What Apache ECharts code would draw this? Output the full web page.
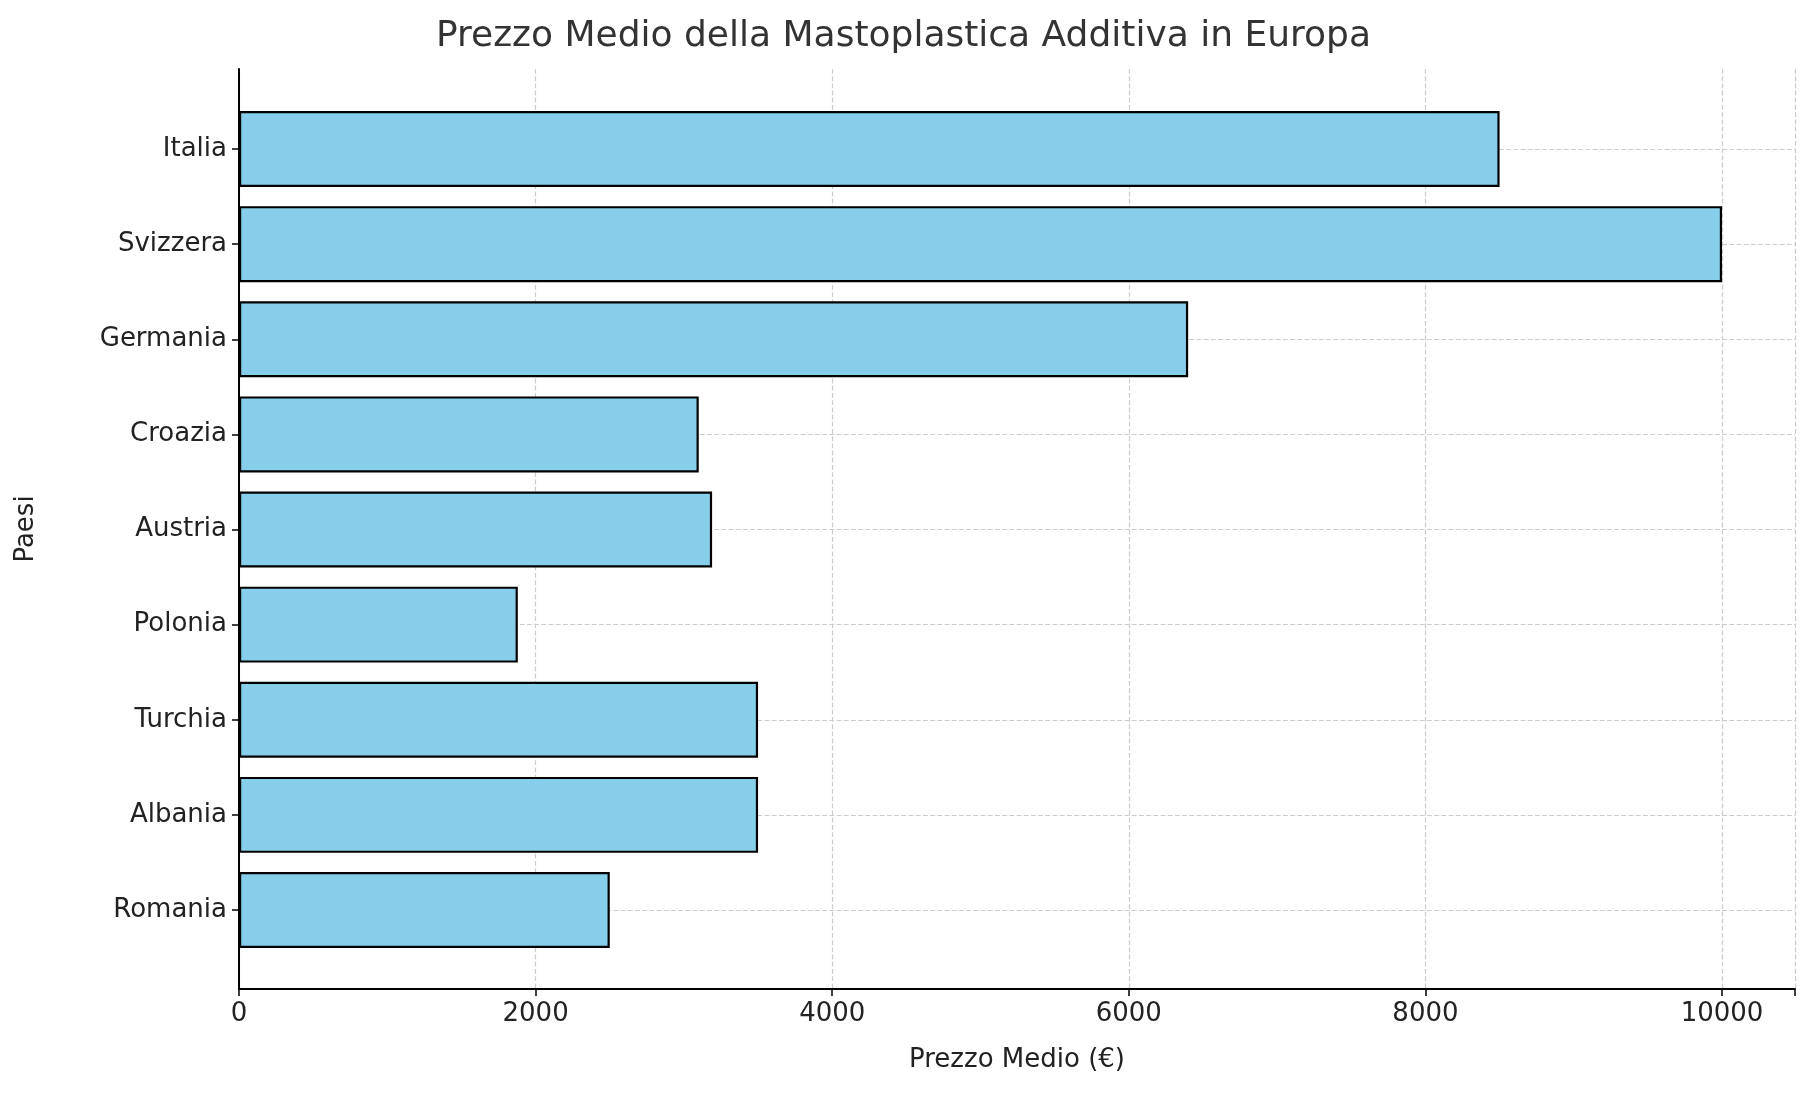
<!DOCTYPE html><html><head><meta charset="utf-8"><script src="https://cdn.jsdelivr.net/npm/echarts@6/dist/echarts.min.js"></script></head><body style="margin:0"><div id="c" style="width:1807px;height:1101px"></div><script>
const categories=['Italia','Svizzera','Germania','Croazia','Austria','Polonia','Turchia','Albania','Romania'];
const prices=[8500,10000,6400,3100,3190,1880,3500,3500,2500];
const xTicks=[0,2000,4000,6000,8000,10000];
const F='DejaVu Sans';
const c=echarts.init(document.getElementById('c'));
const L=239,R=12;
c.setOption({animation:false,
title:{text:'Prezzo Medio della Mastoplastica Additiva in Europa',left:'center',top:14,textStyle:{fontFamily:F,fontSize:36,fontWeight:'normal',color:'#333'}},
grid:[{left:L,right:R,top:149,bottom:191},{left:L,right:R,top:69,bottom:112}],
xAxis:[{gridIndex:0,type:'value',min:0,max:10492,show:false},
{gridIndex:1,type:'value',min:0,max:10492,interval:2000,name:'Prezzo Medio (€)',nameLocation:'middle',nameGap:58,nameTextStyle:{fontFamily:F,fontSize:26,color:'#222'},
axisLine:{lineStyle:{color:'#000',width:2}},axisTick:{show:true,length:7,lineStyle:{color:'#000',width:1.5}},
axisLabel:{fontFamily:F,fontSize:26,color:'#222',margin:12,formatter:v=>xTicks.includes(v)?String(v):''},
splitLine:{show:true,lineStyle:{type:'dashed',color:'#ccc',width:1.2}}}],
yAxis:[{gridIndex:0,type:'category',data:categories,inverse:true,boundaryGap:false,axisLine:{show:false},
axisTick:{show:true,length:7,lineStyle:{color:'#000',width:1.5}},axisLabel:{fontFamily:F,fontSize:26,color:'#222',margin:12},
splitLine:{show:true,lineStyle:{type:'dashed',color:'#ccc',width:1.2}}},
{gridIndex:1,type:'value',min:0,max:1,name:'Paesi',nameLocation:'middle',nameGap:200,nameRotate:90,nameTextStyle:{fontFamily:F,fontSize:26,color:'#222'},
axisLine:{show:true,lineStyle:{color:'#000',width:2}},axisTick:{show:false},axisLabel:{show:false},splitLine:{show:false}}],
series:[{type:'bar',xAxisIndex:0,yAxisIndex:0,data:prices,clip:false,barWidth:76,
itemStyle:{color:'#87ceeb',borderColor:'#000',borderWidth:2.2}}]});
</script></body></html>
